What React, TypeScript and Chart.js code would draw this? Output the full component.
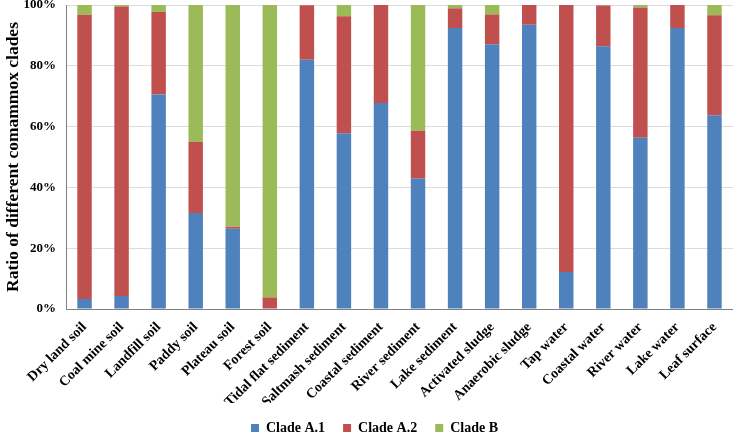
import React, { useEffect, useRef } from "react";
import { Chart, registerables } from "chart.js";

Chart.register(...registerables);

const categories = [
  "Dry land soil", "Coal mine soil", "Landfill soil", "Paddy soil", "Plateau soil", "Forest soil",
  "Tidal flat sediment", "Saltmash sediment", "Coastal sediment", "River sediment", "Lake sediment",
  "Activated sludge", "Anaerobic sludge", "Tap water", "Coastal water", "River water", "Lake water", "Leaf surface",
];

const cladeA1 = [3.3, 4.3, 70.6, 31.6, 26.4, 0, 82.0, 57.8, 67.8, 42.9, 92.4, 87.1, 93.5, 12.2, 86.4, 56.3, 92.4, 63.7];
const cladeA2 = [93.5, 95.2, 27.1, 23.3, 0.7, 3.8, 17.9, 38.5, 32.2, 15.8, 6.5, 9.8, 6.5, 87.8, 13.4, 42.9, 7.6, 32.9];
const cladeB = [3.2, 0.5, 2.3, 45.1, 72.9, 96.2, 0.1, 3.7, 0, 41.3, 1.1, 3.1, 0, 0, 0.2, 0.8, 0, 3.4];

const seriesNames = ["Clade A.1", "Clade A.2", "Clade B"];
const seriesColors = ["#4F81BD", "#C0504D", "#9BBB59"];
const yTicks = [0, 20, 40, 60, 80, 100];

const FONT = "'Liberation Serif', 'Times New Roman', serif";

export default function App() {
  const ref = useRef<HTMLCanvasElement | null>(null);
  useEffect(() => {
    if (!ref.current) return;
    const values = [cladeA1, cladeA2, cladeB];
    const chart = new Chart(ref.current, {
      type: "bar",
      data: {
        labels: categories,
        datasets: values.map((v, i) => ({
          label: seriesNames[i],
          data: v,
          backgroundColor: seriesColors[i],
          borderWidth: 0,
          categoryPercentage: 1,
          barPercentage: 0.39,
        })),
      },
      options: {
        animation: false,
        responsive: false,
        maintainAspectRatio: false,
        layout: { padding: { top: 0, right: 0, left: 16, bottom: -9 } },
        plugins: {
          legend: {
            position: "bottom",
            labels: {
              boxWidth: 8,
              boxHeight: 8,
              padding: 18,
              color: "#000",
              font: { family: FONT, size: 14, weight: "bold" },
            },
          },
          tooltip: { enabled: false },
        },
        scales: {
          x: {
            stacked: true,
            grid: { display: false, drawTicks: false },
            border: { display: true, color: "#808080", width: 1 },
            afterFit: (axis: any) => {
              axis.paddingLeft = 0;
              axis.paddingRight = 0;
              axis.height = 94;
            },
            ticks: {
              color: "#000",
              minRotation: 45,
              maxRotation: 45,
              padding: 10,
              autoSkip: false,
              font: { family: FONT, size: 14, weight: "bold" },
            },
          },
          y: {
            stacked: true,
            min: 0,
            max: 100,
            afterBuildTicks: (axis: any) => {
              axis.ticks = yTicks.map((v) => ({ value: v }));
            },
            afterFit: (axis: any) => {
              axis.width = 50;
              axis.paddingTop = 5;
              axis.paddingBottom = 0;
            },
            grid: { color: "#dcdcdc", drawTicks: false },
            border: { display: true, color: "#808080", width: 1 },
            ticks: {
              color: "#000",
              padding: 10,
              font: { family: FONT, size: 13, weight: "bold" },
              callback: (v: any) => v + "%",
            },
            title: {
              display: true,
              text: "Ratio of different comammox clades",
              color: "#000",
              padding: { top: -13, bottom: 2 },
              font: { family: FONT, size: 17.5, weight: "bold" },
            },
          },
        },
      },
    });
    return () => chart.destroy();
  }, []);
  return (
    <div style={{ position: "fixed", left: 0, top: 0, width: 733, height: 436, background: "#fff" }}>
      <canvas ref={ref} width={733} height={436} style={{ display: "block" }} />
    </div>
  );
}
